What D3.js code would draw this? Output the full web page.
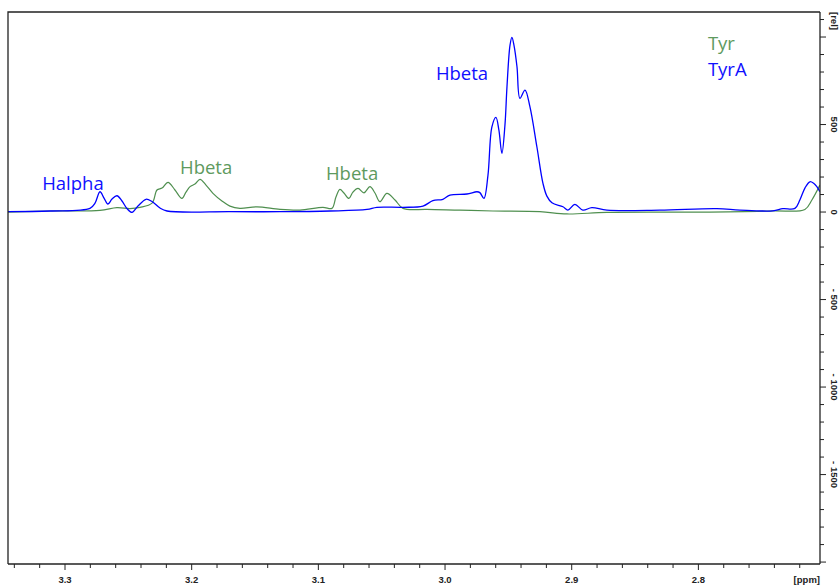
<!DOCTYPE html>
<html><head><meta charset="utf-8">
<script src="https://cdn.jsdelivr.net/npm/d3@7"></script>
<style>body{margin:0;background:#fff}svg{display:block}</style>
</head><body>
<svg id="c" width="840" height="586"></svg>
<script>
// ---- data ----
const tyrA_ppm = [3.345,3.3118,3.2803,3.2763,3.2724,3.2692,3.2661,3.2629,3.2590,3.2550,3.2511,3.2471,3.2424,3.2361,3.2313,3.2250,3.2195,3.1698,3.1303,3.0908,3.0616,3.0538,3.0332,3.0174,3.0096,3.0017,2.9961,2.9827,2.9748,2.9725,2.9693,2.9661,2.9630,2.9598,2.9575,2.9551,2.9527,2.9511,2.9487,2.9472,2.9456,2.9432,2.9409,2.9369,2.9330,2.9275,2.9227,2.9196,2.9156,2.9069,2.9030,2.8975,2.8912,2.8841,2.8722,2.8304,2.7854,2.7672,2.7412,2.7333,2.7238,2.7199,2.7159,2.7120,2.7088,2.7065,2.7041];
const tyrA_val = [2,6,21,51,116,80,46,74,93,63,20,-2,34,73,60,23,6,2,2,6,15,27,27,34,65,73,97,103,116,111,78,211,487,541,469,335,497,716,954,998,954,830,650,697,602,373,164,91,53,30,11,44,11,25,11,11,19,11,7,19,21,69,137,173,163,145,116];
const tyr_ppm = [3.345,3.3118,3.2724,3.2590,3.2487,3.2408,3.2313,3.2274,3.2234,3.2187,3.2132,3.2077,3.2045,3.2013,3.1974,3.1934,3.1887,3.1832,3.1761,3.1698,3.1619,3.1485,3.1303,3.1145,3.0964,3.0893,3.0861,3.0830,3.0798,3.0759,3.0727,3.0687,3.0640,3.0593,3.0553,3.0514,3.0459,3.0395,3.0332,3.0143,2.9882,2.9622,2.9251,2.9038,2.8722,2.7988,2.7412,2.7159,2.7104,2.7041];
const tyr_val = [0,6,9,25,20,27,51,126,137,170,126,78,114,145,160,187,154,107,63,34,21,30,15,11,27,21,86,130,109,78,114,135,110,145,109,59,107,69,21,15,11,6,2,-11,-2,0,7,15,69,154];
const xTickLabels = ["3.3","3.2","3.1","3.0","2.9","2.8"];
const yTickValues = [500,0,-500,-1000,-1500];
const labels = [
  {text:"Halpha", ppm:3.318, val:126, series:"TyrA"},
  {text:"Hbeta", ppm:3.2092, val:217, series:"Tyr"},
  {text:"Hbeta", ppm:3.094, val:183, series:"Tyr"},
  {text:"Hbeta", ppm:3.0072, val:754, series:"TyrA"},
  {text:"Tyr", ppm:2.7925, val:926, series:"Tyr"},
  {text:"TyrA", ppm:2.7925, val:777, series:"TyrA"}
];

// ---- layout ----
const L=8, R=820, T=12, B=564;
const colors = {Tyr:"#4f8f4f", TyrA:"#0000ff"};
const textColors = {Tyr:"#5e9a5e", TyrA:"#1010ff"};
const x = d3.scaleLinear().domain([3.345,2.704]).range([L,R]);
const y = d3.scaleLinear().domain([1143,-2011]).range([T,B]);
const svg = d3.select("#c");

svg.append("defs").append("clipPath").attr("id","clip")
  .append("rect").attr("x",L).attr("y",T).attr("width",R-L).attr("height",B-T);

const line = d3.line().x(d=>x(d[0])).y(d=>y(d[1])).curve(d3.curveCatmullRom.alpha(0.5));
const g = svg.append("g").attr("clip-path","url(#clip)");
g.append("path").datum(d3.zip(tyr_ppm,tyr_val)).attr("d",line)
  .attr("fill","none").attr("stroke",colors.Tyr).attr("stroke-width",1.2);
g.append("path").datum(d3.zip(tyrA_ppm,tyrA_val)).attr("d",line)
  .attr("fill","none").attr("stroke",colors.TyrA).attr("stroke-width",1.3);

// frame top/left
svg.append("path").attr("d",`M${L},${B}V${T}H${R}`).attr("fill","none").attr("stroke","#222").attr("stroke-width",1.3);

const axFont = "Liberation Sans, Arial, sans-serif";
// bottom axis
const xMinor = d3.range(3.34,2.70,-0.02).map(v=>+v.toFixed(2));
const xa = svg.append("g").attr("transform",`translate(0,${B})`);
xa.append("line").attr("x1",L).attr("x2",R).attr("stroke","#222").attr("stroke-width",1.3);
xa.selectAll("line.t").data(xMinor).join("line").attr("class","t")
  .attr("x1",d=>x(d)).attr("x2",d=>x(d)).attr("y1",0)
  .attr("y2",d=>Math.abs(d*10-Math.round(d*10))<1e-6 ? 6 : 4)
  .attr("stroke","#222").attr("stroke-width",1);
xa.selectAll("text").data(xTickLabels).join("text")
  .attr("x",d=>x(+d)).attr("y",19).attr("text-anchor","middle")
  .attr("font-family",axFont).attr("font-weight","bold").attr("font-size",9.5)
  .attr("fill","#222").text(d=>d);
xa.append("text").attr("x",R).attr("y",19).attr("text-anchor","end")
  .attr("font-family",axFont).attr("font-weight","bold").attr("font-size",9.5)
  .attr("fill","#222").text("[ppm]");

// right axis
const yMinor = d3.range(1100,-2001,-100);
const ya = svg.append("g").attr("transform",`translate(${R},0)`);
ya.append("line").attr("y1",T).attr("y2",B).attr("stroke","#222").attr("stroke-width",1.3);
ya.selectAll("line.t").data(yMinor).join("line").attr("class","t")
  .attr("y1",d=>y(d)).attr("y2",d=>y(d)).attr("x1",0).attr("x2",d=>d%500===0?6:4)
  .attr("stroke","#222").attr("stroke-width",1);
ya.selectAll("text.v").data(yTickValues).join("text").attr("class","v")
  .attr("transform",d=>`translate(10,${y(d)}) rotate(90)`)
  .attr("text-anchor","middle").attr("dy","-0.15em")
  .attr("font-family",axFont).attr("font-weight","bold").attr("font-size",9.5)
  .attr("fill","#222").text(d=>d<0?"- "+(-d):String(d));
ya.append("text").attr("transform",`translate(10,${T}) rotate(90)`)
  .attr("text-anchor","start").attr("dy","-0.15em")
  .attr("font-family",axFont).attr("font-weight","bold").attr("font-size",9.5)
  .attr("fill","#222").text("[rel]");

// annotations
svg.selectAll("text.lab").data(labels).join("text").attr("class","lab")
  .attr("x",d=>x(d.ppm)).attr("y",d=>y(d.val))
  .attr("font-family","Open Sans, sans-serif").attr("font-size",18.5)
  .attr("fill",d=>textColors[d.series]).text(d=>d.text);
</script>
</body></html>
